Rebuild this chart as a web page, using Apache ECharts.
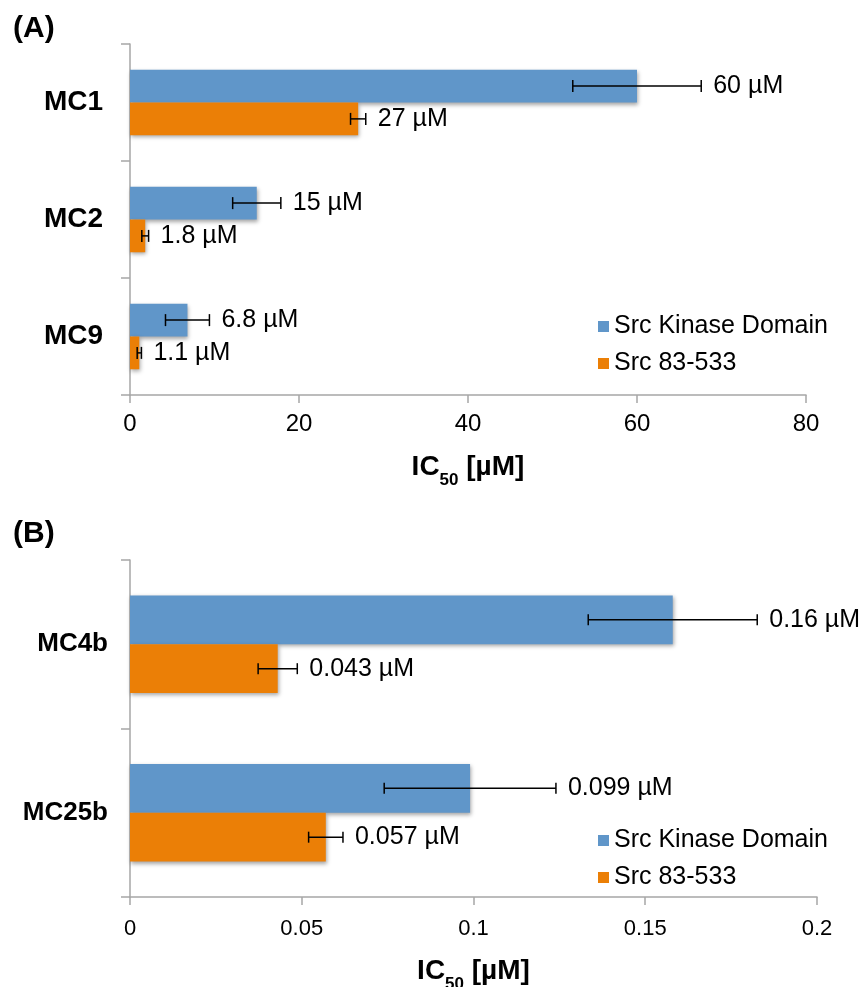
<!DOCTYPE html>
<html><head><meta charset="utf-8">
<script src="https://cdn.jsdelivr.net/npm/echarts@6/dist/echarts.min.js"></script>
<style>html,body{margin:0;padding:0;background:#fff}#c{width:860px;height:987px}</style></head>
<body><div id="c"></div>
<script>
// ---- Data (A) ----
const catsA = ['MC1', 'MC2', 'MC9'];
const kinaseA = [60, 15, 6.8];
const kinaseErrA = [7.6, 2.85, 2.6];
const fullA = [27, 1.8, 1.1];
const fullErrA = [0.9, 0.4, 0.25];
const kinaseLblA = ['60 µM', '15 µM', '6.8 µM'];
const fullLblA = ['27 µM', '1.8 µM', '1.1 µM'];
const axisA = {min: 0, max: 80, interval: 20};
// ---- Data (B) ----
const catsB = ['MC4b', 'MC25b'];
const kinaseB = [0.158, 0.099];
const kinaseErrB = [0.0246, 0.025];
const fullB = [0.043, 0.057];
const fullErrB = [0.0057, 0.005];
const kinaseLblB = ['0.16 µM', '0.099 µM'];
const fullLblB = ['0.043 µM', '0.057 µM'];
const axisB = {min: 0, max: 0.2, interval: 0.05};
const seriesNames = ['Src Kinase Domain', 'Src 83-533'];
const axisTitle = ['IC', '50', ' [µM]'];

const FONT = '"Liberation Sans", Arial, Helvetica, sans-serif';
const BLUE = '#6096c9', ORANGE = '#eb7f06';
const GAP_A = 0.44, GAP_B = 0.42;

const chart = echarts.init(document.getElementById('c'), null, {renderer: 'canvas', width: 860, height: 987});

function errSeries(idx, vals, errs, labels, pos, gap, cap, fontSize) {
  return {
    type: 'custom', xAxisIndex: idx, yAxisIndex: idx, z: 10, silent: true,
    data: vals.map((v, i) => [v, i, errs[i]]),
    encode: {x: 0, y: 1},
    renderItem(params, api) {
      const v = api.value(0), c = api.value(1), e = api.value(2);
      const band = api.size([0, 1])[1];
      const bw = band * (1 - gap) / 2;
      const off = pos * bw / 2;
      const p0 = api.coord([v - e, c]);
      const p1 = api.coord([v + e, c]);
      const y = p0[1] + off;
      const st = {stroke: '#000', lineWidth: 1.5};
      return {
        type: 'group', children: [
          {type: 'line', shape: {x1: p0[0], y1: y, x2: p1[0], y2: y}, style: st},
          {type: 'line', shape: {x1: p0[0], y1: y - cap / 2, x2: p0[0], y2: y + cap / 2}, style: st},
          {type: 'line', shape: {x1: p1[0], y1: y - cap / 2, x2: p1[0], y2: y + cap / 2}, style: st},
          {type: 'text', style: {text: labels[params.dataIndex], x: p1[0] + 12, y: y,
            verticalAlign: 'middle', align: 'left', fontSize: fontSize, fontFamily: FONT, fill: '#000'}}
        ]
      };
    }
  };
}

function barSeries(idx, name, vals, color, gap) {
  return {
    type: 'bar', name: name, xAxisIndex: idx, yAxisIndex: idx, data: vals,
    barGap: 0, barCategoryGap: (gap * 100) + '%',
    itemStyle: {color: color, shadowBlur: 4, shadowColor: 'rgba(0,0,0,0.35)', shadowOffsetX: 1, shadowOffsetY: 2}
  };
}

function xAx(idx, cfg, fs, margin, gapName) {
  return {
    type: 'value', gridIndex: idx, min: cfg.min, max: cfg.max, interval: cfg.interval,
    splitLine: {show: false},
    axisLine: {show: true, lineStyle: {color: '#a6a6a6', width: 1.5}},
    axisTick: {show: true, length: 8, lineStyle: {color: '#a6a6a6', width: 1.5}},
    axisLabel: {fontSize: fs, fontFamily: FONT, color: '#000', margin: margin},
    name: '{b|' + axisTitle[0] + '}{s|' + axisTitle[1] + '}{b|' + axisTitle[2] + '}',
    nameLocation: 'middle', nameGap: gapName,
    nameTextStyle: {
      rich: {
        b: {fontSize: 28, fontWeight: 'bold', fontFamily: FONT, color: '#000', lineHeight: 36, verticalAlign: 'bottom'},
        s: {fontSize: 17, fontWeight: 'bold', fontFamily: FONT, color: '#000', lineHeight: 36, verticalAlign: 'bottom', padding: [0, 0, -8, 0]}
      }
    }
  };
}

function yAx(idx, cats, fs, margin) {
  return {
    type: 'category', gridIndex: idx, data: cats, inverse: true,
    axisLine: {show: true, lineStyle: {color: '#a6a6a6', width: 1.5}},
    axisTick: {show: true, length: 9, lineStyle: {color: '#a6a6a6', width: 1.5}},
    axisLabel: {fontSize: fs, fontWeight: 'bold', fontFamily: FONT, color: '#000', margin: margin}
  };
}

function legend(top) {
  return {
    data: seriesNames, orient: 'vertical', left: 593, top: top, itemGap: 12,
    itemWidth: 11, itemHeight: 11, icon: 'rect',
    textStyle: {fontSize: 25, fontFamily: FONT, color: '#000', padding: [0, 0, 0, 0]},
    selectedMode: false
  };
}

chart.setOption({
  animation: false,
  backgroundColor: '#fff',
  graphic: [
    {type: 'text', left: 13, top: 14, style: {text: '(A)', fontSize: 30, fontWeight: 'bold', fontFamily: FONT, fill: '#000'}},
    {type: 'text', left: 13, top: 519, style: {text: '(B)', fontSize: 30, fontWeight: 'bold', fontFamily: FONT, fill: '#000'}}
  ],
  legend: [legend(309), legend(823)],
  grid: [
    {left: 130, right: 54, top: 44, height: 351, outerBoundsMode: 'none', containLabel: false},
    {left: 130, right: 43, top: 560, height: 337, outerBoundsMode: 'none', containLabel: false}
  ],
  xAxis: [xAx(0, axisA, 24, 17, 50), xAx(1, axisB, 22, 21, 52)],
  yAxis: [yAx(0, catsA, 28, 27), yAx(1, catsB, 26, 22)],
  series: [
    barSeries(0, seriesNames[0], kinaseA, BLUE, GAP_A),
    barSeries(0, seriesNames[1], fullA, ORANGE, GAP_A),
    barSeries(1, seriesNames[0], kinaseB, BLUE, GAP_B),
    barSeries(1, seriesNames[1], fullB, ORANGE, GAP_B),
    errSeries(0, kinaseA, kinaseErrA, kinaseLblA, -1, GAP_A, 12, 25),
    errSeries(0, fullA, fullErrA, fullLblA, 1, GAP_A, 12, 25),
    errSeries(1, kinaseB, kinaseErrB, kinaseLblB, -1, GAP_B, 11, 25),
    errSeries(1, fullB, fullErrB, fullLblB, 1, GAP_B, 11, 25)
  ]
});
</script>
</body></html>
